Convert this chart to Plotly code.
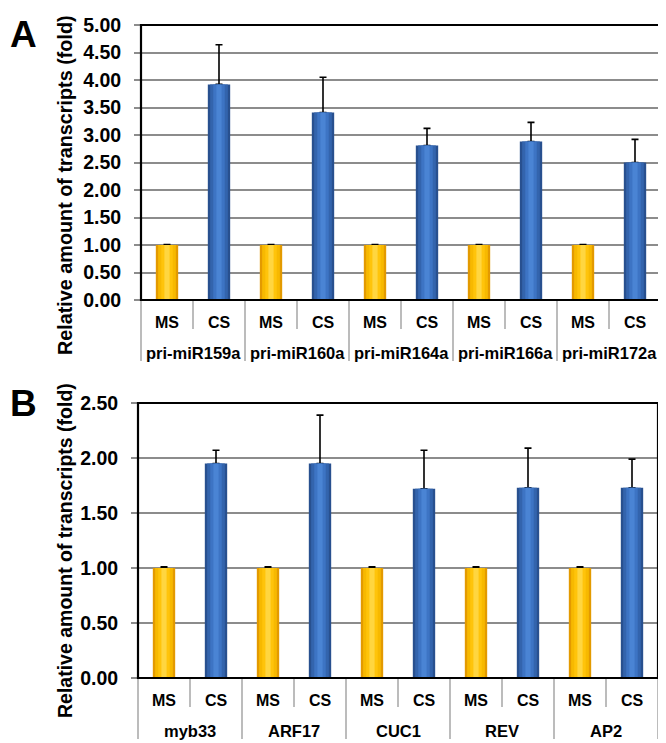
import plotly.graph_objects as go

# ---------------- data ----------------
conditions = ["MS", "CS"]

groups_a = ["pri-miR159a", "pri-miR160a", "pri-miR164a", "pri-miR166a", "pri-miR172a"]
ms_a = [1.00, 1.00, 1.00, 1.00, 1.00]
ms_err_a = [0.01, 0.01, 0.01, 0.01, 0.01]
cs_a = [3.92, 3.41, 2.81, 2.88, 2.50]
cs_err_a = [0.72, 0.64, 0.31, 0.35, 0.42]
yticks_a = [0.00, 0.50, 1.00, 1.50, 2.00, 2.50, 3.00, 3.50, 4.00, 4.50, 5.00]

groups_b = ["myb33", "ARF17", "CUC1", "REV", "AP2"]
ms_b = [1.00, 1.00, 1.00, 1.00, 1.00]
ms_err_b = [0.01, 0.01, 0.01, 0.01, 0.01]
cs_b = [1.95, 1.95, 1.72, 1.73, 1.73]
cs_err_b = [0.12, 0.44, 0.35, 0.36, 0.26]
yticks_b = [0.00, 0.50, 1.00, 1.50, 2.00, 2.50]

y_title = "Relative amount of transcripts (fold)"

# ---------------- styling ----------------
PAGE_W, PAGE_H = 666, 743
BODY = 8  # default page margin around the plot div
W, H = PAGE_W - BODY, PAGE_H - BODY
FONT = "Liberation Sans, Arial, sans-serif"
ms_shades = ["#e39a00", "#f7b900", "#ffc40a", "#ffd640"]
cs_shades = ["#28508f", "#3364ad", "#3d74c4", "#4a84d4"]
layer_widths = [0.43, 0.34, 0.22, 0.10]


def px(x):
    return (x - BODY) / W


def py(y):
    return 1 - (y - BODY) / H


fig = go.Figure()


def add_panel(groups, ms, ms_err, cs, cs_err, xa, ya):
    xcat = [[], []]
    vals, errs = [], []
    for g, m, me, c, ce in zip(groups, ms, ms_err, cs, cs_err):
        xcat[0] += [g, g]
        xcat[1] += conditions
        vals += [m, c]
        errs += [me, ce]
    for li, w in enumerate(layer_widths):
        cols = []
        for _ in groups:
            cols += [ms_shades[li], cs_shades[li]]
        tr = dict(
            x=xcat, y=vals, xaxis=xa, yaxis=ya, width=w,
            marker=dict(color=cols, line=dict(width=0)),
            showlegend=False, hoverinfo="skip",
        )
        if li == 0:
            tr["error_y"] = dict(type="data", symmetric=False, array=errs,
                                 arrayminus=[0] * len(errs), color="black",
                                 thickness=1.6, width=3.5)
        fig.add_trace(go.Bar(**tr))


add_panel(groups_a, ms_a, ms_err_a, cs_a, cs_err_a, "x", "y")
add_panel(groups_b, ms_b, ms_err_b, cs_b, cs_err_b, "x2", "y2")

# panel geometry (page pixels)
pa = dict(l=141, r=661, t=25, b=300)
pb = dict(l=138, r=658, t=403, b=678)


def dom(p):
    return [px(p["l"]), px(p["r"])], [py(p["b"]), py(p["t"])]


xa_dom, ya_dom = dom(pa)
xb_dom, yb_dom = dom(pb)

xaxis_common = dict(
    type="multicategory", showline=False, showgrid=False, ticks="",
    showticklabels=False, showdividers=False, fixedrange=True,
    automargin=False,
)
yaxis_common = dict(
    showline=False, showgrid=True,
    gridcolor="#8c8c8c", gridwidth=1.5, ticks="outside", ticklen=6,
    tickcolor="#8c8c8c", tickwidth=1.5, tickformat=".2f", ticklabelstandoff=9,
    tickfont=dict(family=FONT, size=19.5, color="black", weight="bold"),
    zeroline=False, fixedrange=True, automargin=False,
)

fig.update_layout(
    width=W, height=H, margin=dict(l=0, r=0, t=0, b=0, autoexpand=False),
    paper_bgcolor="white", plot_bgcolor="white",
    barmode="overlay",
    xaxis=dict(domain=xa_dom, anchor="y", **xaxis_common),
    yaxis=dict(domain=ya_dom, anchor="x", range=[0, 5], tickvals=yticks_a,
               **yaxis_common),
    xaxis2=dict(domain=xb_dom, anchor="y2", **xaxis_common),
    yaxis2=dict(domain=yb_dom, anchor="x2", range=[0, 2.5], tickvals=yticks_b,
                **yaxis_common),
)

shapes = []
annotations = []
DIV = "#a6a6a6"
for xa, ya, groups in [("x", "y", groups_a), ("x2", "y2", groups_b)]:
    xr, yr = f"{xa} domain", f"{ya} domain"
    n = 2 * len(groups)
    # category dividers below the axis
    for k in range(n + 1):
        xf = k / n
        depth = -61 if k % 2 == 0 else -29
        shapes.append(dict(type="line", xref=xr, yref=yr, ysizemode="pixel",
                           yanchor=0, x0=xf, x1=xf, y0=0, y1=depth,
                           line=dict(color=DIV, width=1.5)))
    # frame
    shapes.append(dict(type="rect", xref=xr, yref=yr, x0=0, x1=1, y0=0, y1=1,
                       line=dict(color="black", width=2.2)))
    # category labels
    for gi, g in enumerate(groups):
        for ci, c in enumerate(conditions):
            annotations.append(dict(
                text=f"<b>{c}</b>", xref=xr, yref=yr,
                x=(2 * gi + ci + 0.5) / n, y=0, yshift=-22,
                xanchor="center", yanchor="middle", showarrow=False,
                font=dict(family=FONT, size=16, color="black")))
        annotations.append(dict(
            text=f"<b>{g}</b>", xref=xr, yref=yr,
            x=(2 * gi + 1) / n, y=0, yshift=-53,
            xanchor="center", yanchor="middle", showarrow=False,
            font=dict(family=FONT, size=16.5, color="black")))

fig.update_layout(shapes=shapes)

annotations.append(dict(text="<b>A</b>", x=px(23), y=py(34), xref="paper",
                        yref="paper", showarrow=False, xanchor="center",
                        yanchor="middle",
                        font=dict(family=FONT, size=37, color="black")))
annotations.append(dict(text="<b>B</b>", x=px(23), y=py(403), xref="paper",
                        yref="paper", showarrow=False, xanchor="center",
                        yanchor="middle",
                        font=dict(family=FONT, size=37, color="black")))
annotations.append(dict(text=f"<b>{y_title}</b>", x=px(65), y=py(185),
                        xref="paper", yref="paper", showarrow=False, textangle=-90,
                        xanchor="center", yanchor="middle",
                        font=dict(family=FONT, size=19.8, color="black")))
annotations.append(dict(text=f"<b>{y_title}</b>", x=px(65), y=py(551),
                        xref="paper", yref="paper", showarrow=False, textangle=-90,
                        xanchor="center", yanchor="middle",
                        font=dict(family=FONT, size=19.5, color="black")))
fig.update_layout(annotations=annotations)

fig.write_html("out.html")
